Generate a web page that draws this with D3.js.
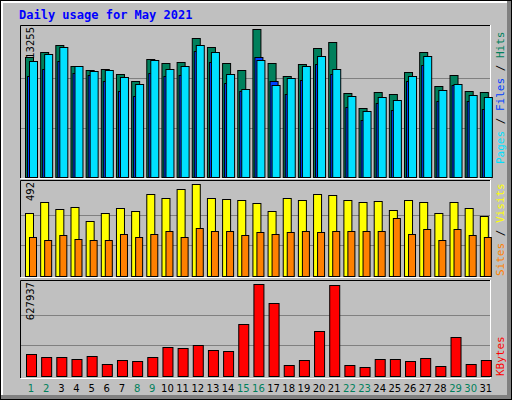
<!DOCTYPE html><html><head><meta charset="utf-8">
<script src="https://cdn.jsdelivr.net/npm/d3@7"></script>
<style>body{margin:0}svg{display:block}</style></head><body>
<script>
const days = d3.range(1,32);
const weekend = [1,2,8,9,15,16,22,23,29,30];
const hits = [10750,11200,11850,9960,9600,9690,9240,8610,10570,10210,10300,12480,11670,10210,9600,13255,10210,9060,10120,11580,12120,7520,6180,7610,7430,9420,11220,8160,9150,7700,7610];
const files = [9060,9690,10390,9330,9150,8610,7700,7250,9330,9060,9150,11310,10300,8420,7700,10750,8610,7430,8690,10120,9240,6270,5100,6630,6000,8610,10030,6810,8240,6810,6090];
const pages = [10390,11040,11670,9960,9510,9600,8960,8330,10480,9690,9960,11850,11220,9240,7880,10480,8240,8880,9960,10840,9690,7250,5910,7160,6900,9060,10840,7790,8330,7340,7160];
const visits = [335,395,357,368,292,335,362,346,438,416,465,492,416,411,405,389,346,416,405,438,432,405,395,400,351,405,395,335,395,362,319];
const sites = [206,190,217,200,190,190,222,206,227,238,211,259,238,238,217,233,227,233,238,233,238,243,243,243,308,227,249,190,254,217,206];
const kbytes = [153000,132000,132000,119000,139000,84000,112000,105000,132000,201000,194000,215000,180000,173000,352000,627937,495000,77000,112000,304000,619000,77000,63000,119000,119000,105000,125000,70000,269000,84000,112000];
const yTicks1 = ["13255"], yTicks2 = ["492"], yTicks3 = ["627937"];

const W=512,H=400;
const svg=d3.select("body").append("svg").attr("width",W).attr("height",H);
svg.append("rect").attr("width",W).attr("height",H).attr("fill","#000");
svg.append("rect").attr("x",1).attr("y",1).attr("width",W-2).attr("height",H-2).attr("fill","#808080");
svg.append("rect").attr("x",1).attr("y",1).attr("width",W-6).attr("height",H-6).attr("fill","#fff");
svg.append("rect").attr("x",3).attr("y",3).attr("width",W-8).attr("height",H-8).attr("fill","#c0c0c0");
svg.append("text").attr("x",19).attr("y",19).text("Daily usage for May 2021")
 .attr("font-family","DejaVu Sans Mono").attr("font-weight","bold").attr("font-size",12).attr("fill","#0000ff");

const x=d3.scaleBand().domain(days).range([20,490]).paddingInner(0);
const xs=d=>x(d)+5;

function panel(top,bottom,base,maxTop,maxVal,label){
  svg.append("rect").attr("x",20).attr("y",top).attr("width",471).attr("height",bottom-top).attr("fill","#c0c0c0");
  const y=d3.scaleLinear().domain([0,maxVal]).range([base,maxTop]);
  [1/3,2/3].forEach(f=>svg.append("line").attr("x1",21).attr("x2",490)
    .attr("y1",Math.round(y(maxVal*f))+.5).attr("y2",Math.round(y(maxVal*f))+.5).attr("stroke","#808080"));
  svg.append("path").attr("d",`M20.5,${bottom}V${top+.5}H490.5`).attr("stroke","#000").attr("fill","none");
  svg.append("path").attr("d",`M20.5,${bottom+.5}H490.5V${top}`).attr("stroke","#fff").attr("fill","none");
  svg.append("text").attr("transform",`translate(34,${top+2}) rotate(-90)`).attr("text-anchor","end")
    .attr("font-family","DejaVu Sans").attr("font-size",10).attr("fill","#000").text(label);
  return y;
}
function bars(y,vals,off,w,col){
  svg.append("g").selectAll("rect").data(days).join("rect")
   .attr("x",d=>xs(d)+off+.5).attr("y",d=>Math.round(y(vals[d-1]))+.5)
   .attr("width",w).attr("height",d=>y(0)-Math.round(y(vals[d-1])))
   .attr("fill",col).attr("stroke","#000");
}
const y1=panel(25,178,177,29,13255,yTicks1[0]);
bars(y1,hits,0,8,"#00805c");bars(y1,files,2,8,"#0040ff");bars(y1,pages,4,8,"#00e0ff");
const y2=panel(180,277,276,184,492,yTicks2[0]);
bars(y2,visits,0,8,"#ffff00");bars(y2,sites,4,7,"#ff8000");
const y3=panel(280,378,376,284,627937,yTicks3[0]);
bars(y3,kbytes,1,10,"#ff0000");

svg.append("g").selectAll("text").data(days).join("text")
 .attr("x",d=>xs(d)+6).attr("y",392).attr("text-anchor","middle")
 .attr("font-family","DejaVu Sans").attr("font-size",10)
 .attr("fill",d=>weekend.includes(d)?"#00805c":"#000").text(d=>d);

function sideLabel(yBottom,parts){
  const t=svg.append("text").attr("transform",`translate(504,${yBottom}) rotate(-90)`)
   .attr("font-family","DejaVu Sans Mono").attr("font-size",11);
  parts.forEach(([s,c])=>t.append("tspan").attr("fill",c).text(s));
}
sideLabel(164,[["Pages","#00e0ff"],[" / ","#000"],["Files","#0040ff"],[" / ","#000"],["Hits","#00805c"]]);
sideLabel(276,[["Sites","#ff8000"],[" / ","#000"],["Visits","#ffff00"]]);
sideLabel(376,[["KBytes","#ff0000"]]);
</script></body></html>
